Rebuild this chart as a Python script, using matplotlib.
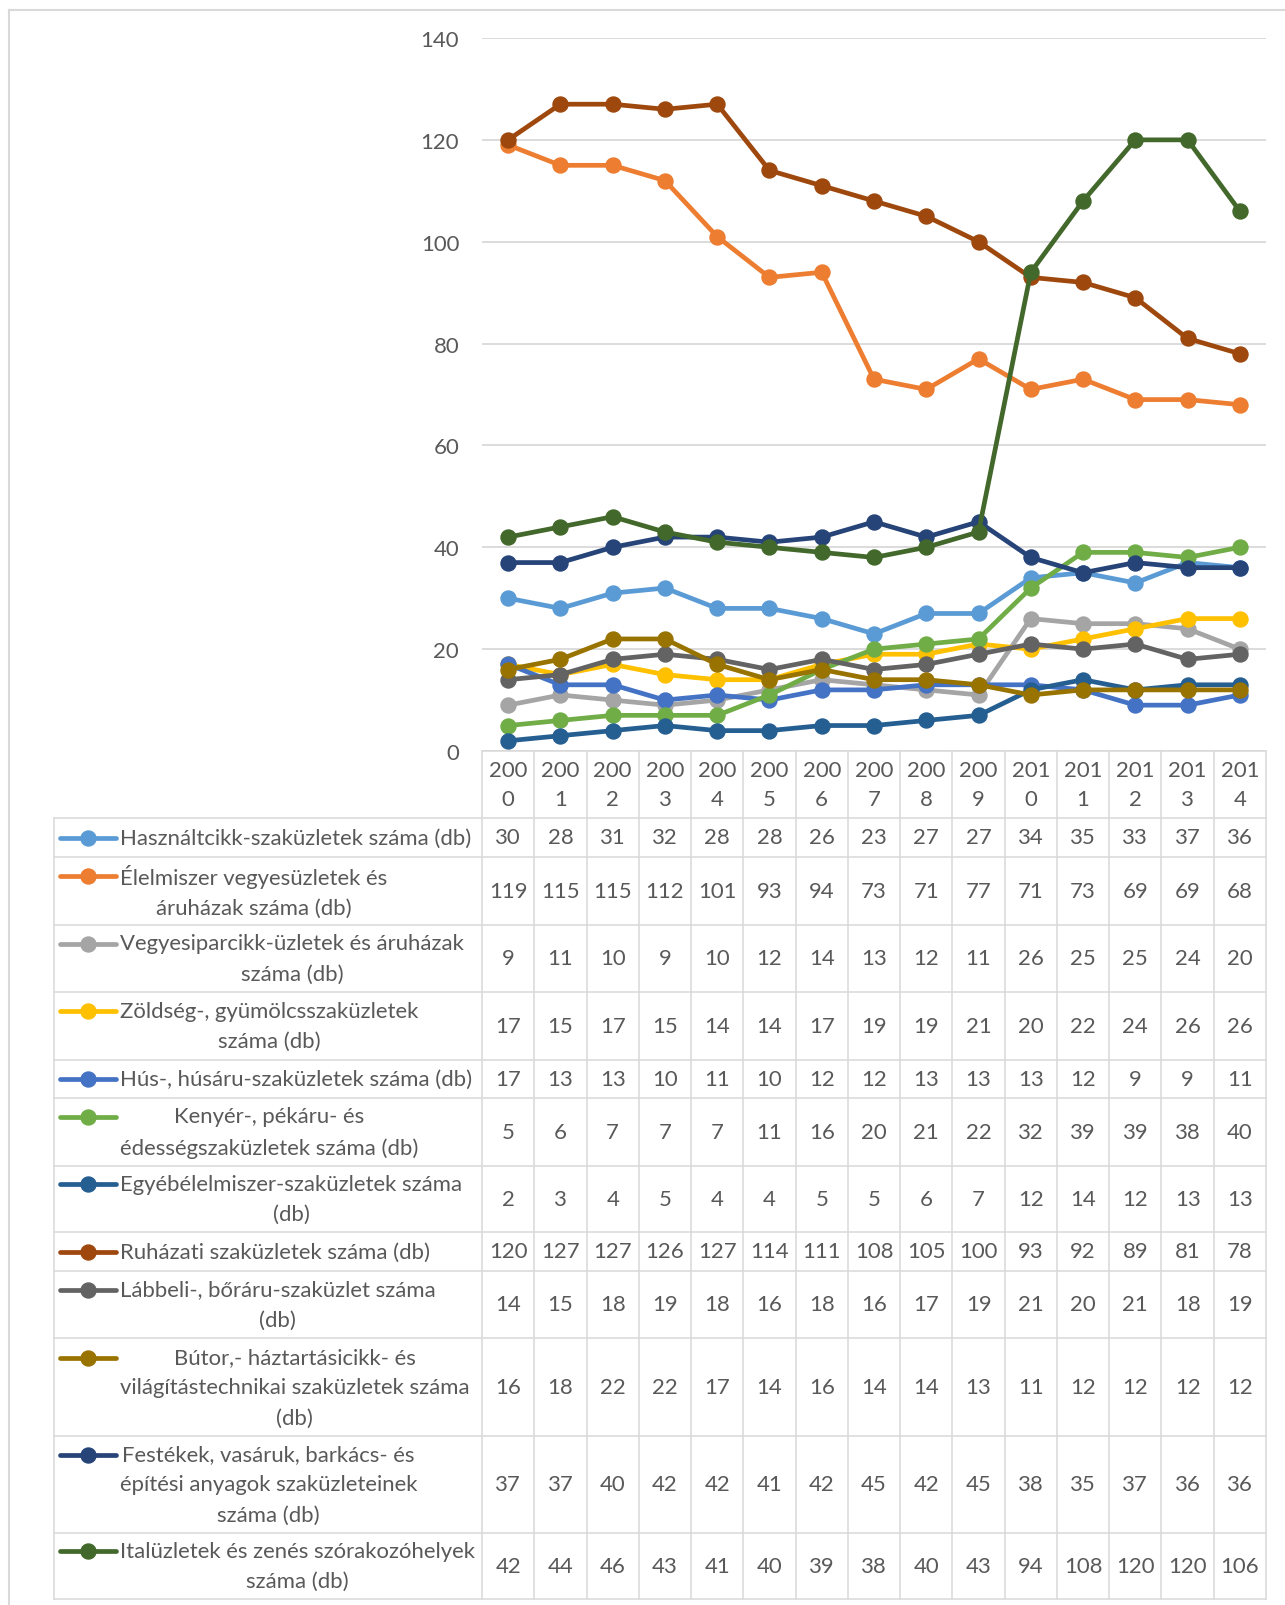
"""
Üzletek száma 2000-2014, vonaldiagram adattáblával (Excel-stílus)
"""

import numpy as np
import matplotlib
matplotlib.use('Agg')
import matplotlib.pyplot as plt


# -----
# Data

years = ['2000', '2001', '2002', '2003', '2004', '2005', '2006', '2007',
         '2008', '2009', '2010', '2011', '2012', '2013', '2014']

series_labels = [
    'Használtcikk-szaküzletek száma (db)',
    'Élelmiszer vegyesüzletek és\náruházak száma (db)',
    'Vegyesiparcikk-üzletek és áruházak\nszáma (db)',
    'Zöldség-, gyümölcsszaküzletek\nszáma (db)',
    'Hús-, húsáru-szaküzletek száma (db)',
    'Kenyér-, pékáru- és\nédességszaküzletek száma (db)',
    'Egyébélelmiszer-szaküzletek száma\n(db)',
    'Ruházati szaküzletek száma (db)',
    'Lábbeli-, bőráru-szaküzlet száma\n(db)',
    'Bútor,- háztartásicikk- és\nvilágítástechnikai szaküzletek száma\n(db)',
    'Festékek, vasáruk, barkács- és\népítési anyagok szaküzleteinek\nszáma (db)',
    'Italüzletek és zenés szórakozóhelyek\nszáma (db)',
]

hasznaltcikk = [30, 28, 31, 32, 28, 28, 26, 23, 27, 27, 34, 35, 33, 37, 36]
elelmiszer = [119, 115, 115, 112, 101, 93, 94, 73, 71, 77, 71, 73, 69, 69, 68]
vegyesiparcikk = [9, 11, 10, 9, 10, 12, 14, 13, 12, 11, 26, 25, 25, 24, 20]
zoldseg = [17, 15, 17, 15, 14, 14, 17, 19, 19, 21, 20, 22, 24, 26, 26]
hus = [17, 13, 13, 10, 11, 10, 12, 12, 13, 13, 13, 12, 9, 9, 11]
kenyer = [5, 6, 7, 7, 7, 11, 16, 20, 21, 22, 32, 39, 39, 38, 40]
egyeb = [2, 3, 4, 5, 4, 4, 5, 5, 6, 7, 12, 14, 12, 13, 13]
ruhazati = [120, 127, 127, 126, 127, 114, 111, 108, 105, 100, 93, 92, 89, 81, 78]
labbeli = [14, 15, 18, 19, 18, 16, 18, 16, 17, 19, 21, 20, 21, 18, 19]
butor = [16, 18, 22, 22, 17, 14, 16, 14, 14, 13, 11, 12, 12, 12, 12]
festekek = [37, 37, 40, 42, 42, 41, 42, 45, 42, 45, 38, 35, 37, 36, 36]
italuzletek = [42, 44, 46, 43, 41, 40, 39, 38, 40, 43, 94, 108, 120, 120, 106]

series_values = [hasznaltcikk, elelmiszer, vegyesiparcikk, zoldseg, hus, kenyer,
                 egyeb, ruhazati, labbeli, butor, festekek, italuzletek]

colors = ['#5B9BD5', '#ED7D31', '#A5A5A5', '#FFC000', '#4472C4', '#70AD47',
          '#255E91', '#9E480E', '#636363', '#997300', '#264478', '#43682B']

y_ticks = [0, 20, 40, 60, 80, 100, 120, 140]


# -----
# Layout (pixels)

W, H = 1285, 1606
DPI = 100
TBL_L = 54       # left edge of label column
COL0 = 482       # left edge of first year column / plot area
TBL_R = 1266     # right edge of table / plot area
Y_TOP = 39       # y pixel of 140
Y_ZERO = 752     # y pixel of 0 (= header top)
HDR_BOT = 819
ROW_EDGES = [819, 858, 926, 993, 1061, 1099, 1167, 1233, 1272, 1339, 1437, 1534, 1600]
LINE_H = 29.5
TEXT_X = 120
KEY_X0, KEY_X1 = 60, 116

GRID = '#D9D9D9'
TXT = '#595959'
FONT = ['Lato', 'DejaVu Sans']
FS = 15.9

plt.rcParams['font.family'] = FONT

fig = plt.figure(figsize=(W / DPI, H / DPI), dpi=DPI)

# overlay axes in pixel coordinates for table, legend keys and frame
axt = fig.add_axes([0, 0, 1, 1])
axt.set_xlim(0, W)
axt.set_ylim(H, 0)
axt.axis('off')

# chart area
ax = fig.add_axes([COL0 / W, (H - Y_ZERO) / H, (TBL_R - COL0) / W, (Y_ZERO - Y_TOP) / H])
ax.set_xlim(-0.5, len(years) - 0.5)
ax.set_ylim(0, 140)
ax.set_yticks(y_ticks)
ax.set_xticks([])
ax.tick_params(axis='y', length=0, pad=16.5, labelsize=FS, labelcolor=TXT)
for s in ax.spines.values():
    s.set_visible(False)
ax.patch.set_alpha(0)
ax.grid(axis='y', color=GRID, lw=1.3)
ax.set_axisbelow(True)

x = np.arange(len(years))
for vals, c in zip(series_values, colors):
    ax.plot(x, vals, color=c, lw=3.4, marker='o', ms=10.8,
            solid_capstyle='round', clip_on=False, zorder=3)

# outer frame
axt.plot([8.5, 8.5], [10.5, H], color=GRID, lw=1.5)
axt.plot([8.5, W], [10.5, 10.5], color=GRID, lw=1.5)

# table grid
ncol = len(years)
col_w = (TBL_R - COL0) / ncol
col_edges = [COL0 + i * col_w for i in range(ncol + 1)]
tl = dict(color=GRID, lw=1.1, zorder=1)
axt.plot([COL0, TBL_R], [Y_ZERO, Y_ZERO], **tl)
for ye in ROW_EDGES:
    axt.plot([TBL_L, TBL_R], [ye, ye], **tl)
axt.plot([TBL_L, TBL_L], [ROW_EDGES[0], ROW_EDGES[-1]], **tl)
for xe in col_edges:
    axt.plot([xe, xe], [Y_ZERO, ROW_EDGES[-1]], **tl)

# header years, wrapped like in the original
hdr_mid = (Y_ZERO + HDR_BOT) / 2
for i, yr in enumerate(years):
    cx = (col_edges[i] + col_edges[i + 1]) / 2
    axt.text(cx, hdr_mid - 14.5, yr[:3], ha='center', va='center', fontsize=FS, color=TXT)
    axt.text(cx, hdr_mid + 14.5, yr[3:], ha='center', va='center', fontsize=FS, color=TXT)

# rows
for r, (lab, vals, c) in enumerate(zip(series_labels, series_values, colors)):
    y0, y1 = ROW_EDGES[r], ROW_EDGES[r + 1]
    cy = (y0 + y1) / 2
    nlines = lab.count('\n') + 1
    axt.text(TEXT_X, cy, lab, ha='left', va='center', multialignment='center',
             fontsize=FS, color=TXT, linespacing=1.65)
    ky = cy - (nlines - 1) / 2 * LINE_H
    axt.plot([KEY_X0, KEY_X1], [ky, ky], color=c, lw=3.4, solid_capstyle='round')
    axt.plot([(KEY_X0 + KEY_X1) / 2], [ky], 'o', color=c, ms=10.8)
    for i, v in enumerate(vals):
        cx = (col_edges[i] + col_edges[i + 1]) / 2
        axt.text(cx, cy, str(v), ha='center', va='center', fontsize=FS, color=TXT)

fig.savefig('out.png', dpi=DPI)
